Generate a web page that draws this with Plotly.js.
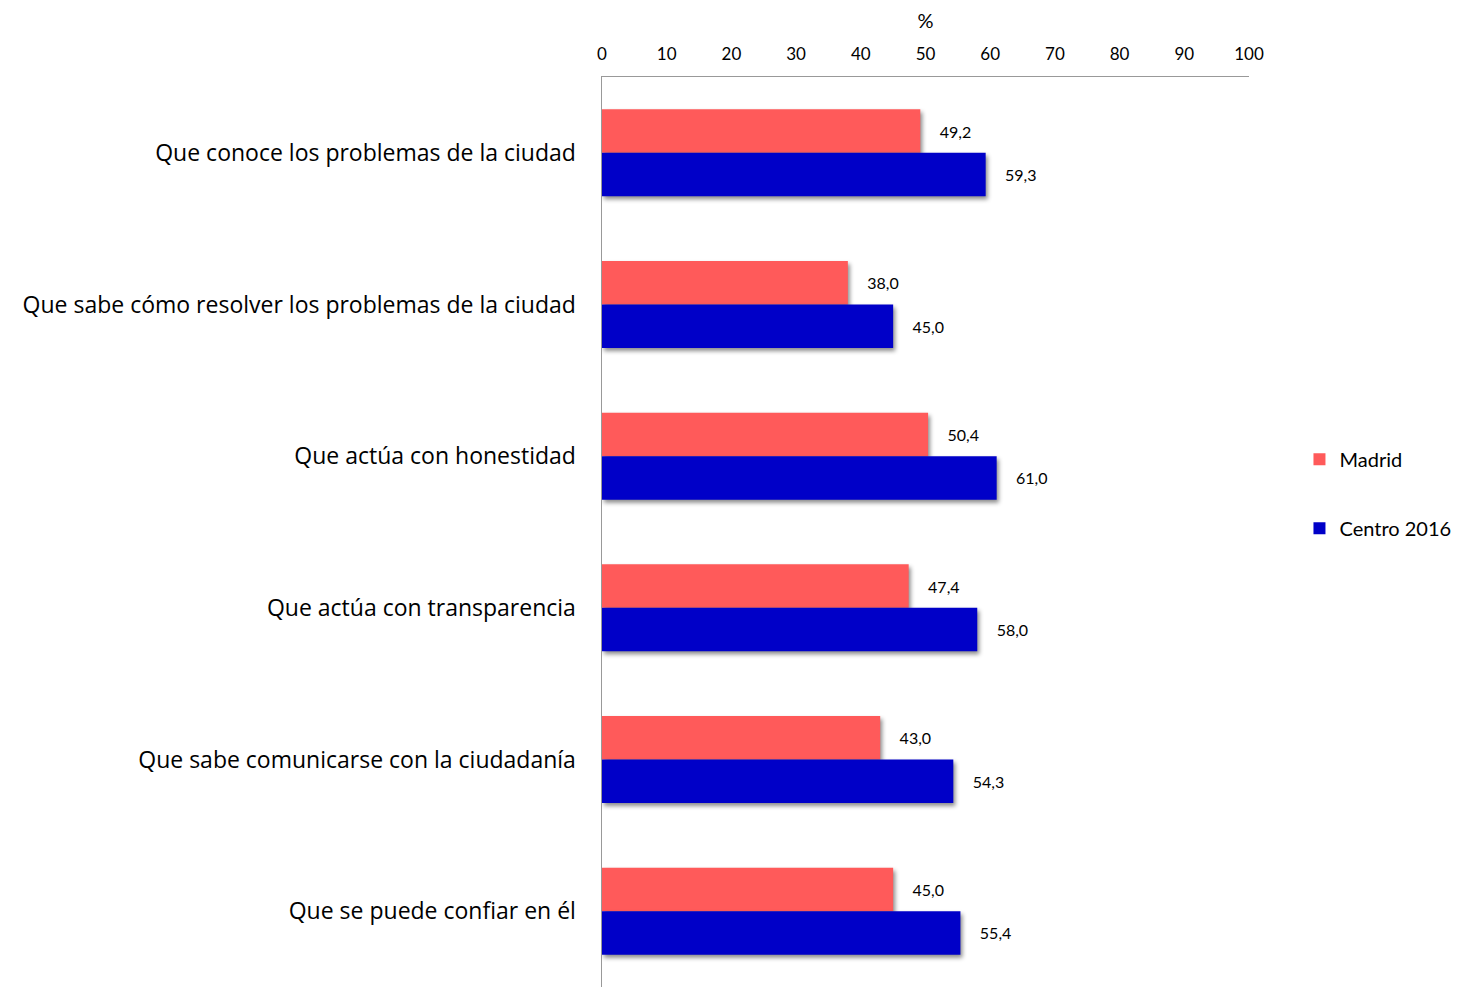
<!DOCTYPE html>
<html>
<head>
<meta charset="utf-8">
<script src="https://cdn.plot.ly/plotly-3.0.1.min.js"></script>
<style>
html,body{margin:0;padding:0;background:#fff;}
#chart{width:1460px;height:988px;}
.barlayer .point path{filter:drop-shadow(2px 3px 2px rgba(0,0,0,0.45));}
</style>
</head>
<body>
<div id="chart"></div>
<script>
const categories = [
  "Que conoce los problemas de la ciudad",
  "Que sabe cómo resolver los problemas de la ciudad",
  "Que actúa con honestidad",
  "Que actúa con transparencia",
  "Que sabe comunicarse con la ciudadanía",
  "Que se puede confiar en él"
];
const madrid = [49.2, 38.0, 50.4, 47.4, 43.0, 45.0];
const centro2016 = [59.3, 45.0, 61.0, 58.0, 54.3, 55.4];
const xTicks = [0, 10, 20, 30, 40, 50, 60, 70, 80, 90, 100];

const FONT = "Lato, 'Open Sans', sans-serif";
const CATFONT = "'Open Sans', sans-serif";
const gap = "\u00a0\u00a0\u00a0\u00a0";

const traces = [
  {
    type: "bar", orientation: "h", name: "Madrid", legendgroup: "a",
    x: madrid, y: categories,
    marker: {color: "#FF5A5A"},
    texttemplate: gap + "%{x:.1f}", textposition: "outside", cliponaxis: false,
    textfont: {family: FONT, size: 16, color: "#000"}
  },
  {
    type: "bar", orientation: "h", name: "Centro 2016", legendgroup: "b",
    x: centro2016, y: categories,
    marker: {color: "#0000C8"},
    texttemplate: gap + "%{x:.1f}", textposition: "outside", cliponaxis: false,
    textfont: {family: FONT, size: 16, color: "#000"}
  }
];

const layout = {
  width: 1460, height: 988,
  margin: {l: 602, r: 211, t: 77, b: 1, pad: 0},
  paper_bgcolor: "#fff", plot_bgcolor: "#fff",
  separators: ",.",
  barmode: "group", bargap: 0.426, bargroupgap: 0,
  font: {family: FONT, color: "#000"},
  showlegend: true,
  legend: {
    x: 1.078, y: 0.542, xanchor: "left", yanchor: "middle",
    font: {family: FONT, size: 20, color: "#000"},
    tracegroupgap: 40, traceorder: "grouped",
    itemwidth: 30
  },
  xaxis: {
    side: "top", range: [0, 100], tickvals: xTicks,
    showgrid: false, zeroline: false,
    showline: true, linecolor: "#999", linewidth: 1.5,
    ticks: "outside", ticklen: 9, tickcolor: "rgba(0,0,0,0)",
    tickfont: {family: FONT, size: 17, color: "#000"},
    title: {text: "%", font: {family: FONT, size: 20, color: "#000"}, standoff: 8}
  },
  yaxis: {
    autorange: "reversed", type: "category",
    showgrid: false, zeroline: false,
    showline: true, linecolor: "#999", linewidth: 1.5,
    ticks: "outside", ticklen: 20, tickcolor: "rgba(0,0,0,0)",
    tickfont: {family: CATFONT, size: 23, color: "#000"}
  }
};

Plotly.newPlot("chart", traces, layout, {displayModeBar: false, staticPlot: true});
</script>
</body>
</html>
